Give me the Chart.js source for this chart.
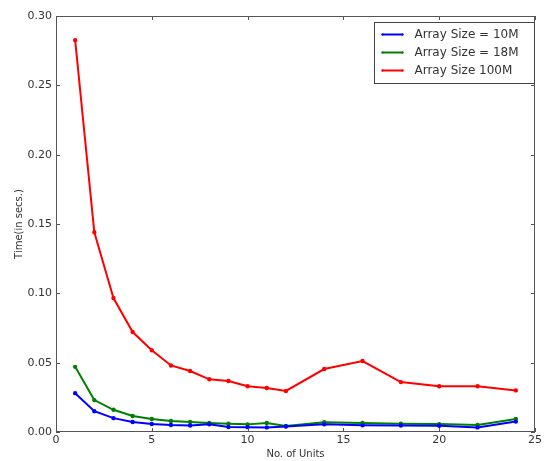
<!DOCTYPE html>
<html>
<head>
<meta charset="utf-8">
<script src="https://cdn.jsdelivr.net/npm/chart.js@4"></script>
<style>
  html, body { margin: 0; padding: 0; background: #fff; }
  #wrap { width: 544px; height: 461px; position: relative; }
</style>
</head>
<body>
<div id="wrap"><canvas id="chart"></canvas></div>
<script>
// data
const units = [1, 2, 3, 4, 5, 6, 7, 8, 9, 10, 11, 12, 14, 16, 18, 20, 22, 24];
const size10M = [0.028, 0.015, 0.010, 0.0072, 0.0058, 0.005, 0.0047, 0.0055, 0.0036, 0.0035, 0.0033, 0.004, 0.0055, 0.0048, 0.0047, 0.0045, 0.0033, 0.0075];
const size18M = [0.047, 0.023, 0.016, 0.0115, 0.0094, 0.0079, 0.0072, 0.0065, 0.006, 0.0055, 0.0065, 0.0043, 0.007, 0.0065, 0.006, 0.0057, 0.005, 0.0094];
const size100M = [0.2826, 0.144, 0.0966, 0.0721, 0.059, 0.048, 0.044, 0.038, 0.0368, 0.033, 0.0317, 0.0296, 0.0454, 0.0512, 0.036, 0.033, 0.033, 0.030];
const seriesNames = ["Array Size = 10M", "Array Size = 18M", "Array Size 100M"];
const seriesColors = ["#0000ff", "#008000", "#ff0000"];
const xTicks = [0, 5, 10, 15, 20, 25];
const yTicks = [0, 0.05, 0.10, 0.15, 0.20, 0.25, 0.30];

const FONT = "'DejaVu Sans', sans-serif";
const INK = "#333";

function toPoints(vals) {
  return units.map((u, i) => ({ x: u, y: vals[i] }));
}

const datasets = [size10M, size18M, size100M].map((vals, i) => ({
  label: seriesNames[i],
  data: toPoints(vals),
  borderColor: seriesColors[i],
  backgroundColor: seriesColors[i],
  borderWidth: 2,
  pointRadius: 1.2,
  pointHoverRadius: 1.2,
  tension: 0,
}));

// frame, inward ticks on all four sides, legend box
const framePlugin = {
  id: "frame",
  afterDraw(chart) {
    const { ctx, chartArea: a, scales } = chart;
    ctx.save();
    ctx.strokeStyle = "#555";
    ctx.lineWidth = 1;
    ctx.strokeRect(a.left + 0.5, a.top + 0.5, a.right - a.left - 1, a.bottom - a.top - 1);

    ctx.beginPath();
    xTicks.forEach((v) => {
      const px = Math.round(scales.x.getPixelForValue(v)) + 0.5;
      ctx.moveTo(px, a.bottom); ctx.lineTo(px, a.bottom - 4);
      ctx.moveTo(px, a.top); ctx.lineTo(px, a.top + 4);
    });
    yTicks.forEach((v) => {
      const py = Math.round(scales.y.getPixelForValue(v)) + 0.5;
      ctx.moveTo(a.left, py); ctx.lineTo(a.left + 4, py);
      ctx.moveTo(a.right, py); ctx.lineTo(a.right - 4, py);
    });
    ctx.stroke();

    // legend
    const bx = 374.5, by = 22.5, bw = 160, bh = 61;
    ctx.fillStyle = "#fff";
    ctx.fillRect(bx, by, bw, bh);
    ctx.strokeStyle = "#444";
    ctx.strokeRect(bx, by, bw, bh);
    ctx.font = "12px " + FONT;
    ctx.textBaseline = "middle";
    seriesNames.forEach((name, i) => {
      const y = by + 12 + i * 18;
      ctx.strokeStyle = seriesColors[i];
      ctx.lineWidth = 2;
      ctx.beginPath();
      ctx.moveTo(bx + 8, y); ctx.lineTo(bx + 28, y);
      ctx.stroke();
      ctx.fillStyle = seriesColors[i];
      [bx + 8, bx + 28].forEach((px) => {
        ctx.beginPath(); ctx.arc(px, y, 1.2, 0, Math.PI * 2); ctx.fill();
      });
      ctx.fillStyle = INK;
      ctx.fillText(name, bx + 40, y);
    });
    ctx.restore();
  },
};

new Chart(document.getElementById("chart"), {
  type: "line",
  data: { datasets },
  plugins: [framePlugin],
  options: {
    responsive: true,
    maintainAspectRatio: false,
    animation: false,
    layout: { padding: { left: 0, top: 16, right: 8, bottom: 0 } },
    plugins: {
      legend: { display: false },
      tooltip: { enabled: false },
    },
    scales: {
      x: {
        type: "linear",
        min: 0,
        max: 25,
        afterBuildTicks: (s) => { s.ticks = xTicks.map((v) => ({ value: v })); },
        afterFit: (s) => { s.height = 29; },
        ticks: { color: INK, font: { family: FONT, size: 11 }, padding: 2 },
        grid: { display: false, drawTicks: false },
        border: { display: false },
        title: {
          display: true,
          text: "No. of Units",
          color: INK,
          font: { family: FONT, size: 10 },
          padding: { top: 0, bottom: 1 },
        },
      },
      y: {
        type: "linear",
        min: 0,
        max: 0.3,
        afterBuildTicks: (s) => { s.ticks = yTicks.map((v) => ({ value: v })); },
        afterFit: (s) => { s.width = 56; },
        ticks: {
          color: INK,
          font: { family: FONT, size: 11 },
          padding: 4,
          callback: (v) => v.toFixed(2),
        },
        grid: { display: false, drawTicks: false },
        border: { display: false },
        title: {
          display: true,
          text: "Time(in secs.)",
          color: INK,
          font: { family: FONT, size: 10 },
          padding: { top: 13, bottom: 0 },
        },
      },
    },
  },
});
</script>
</body>
</html>
